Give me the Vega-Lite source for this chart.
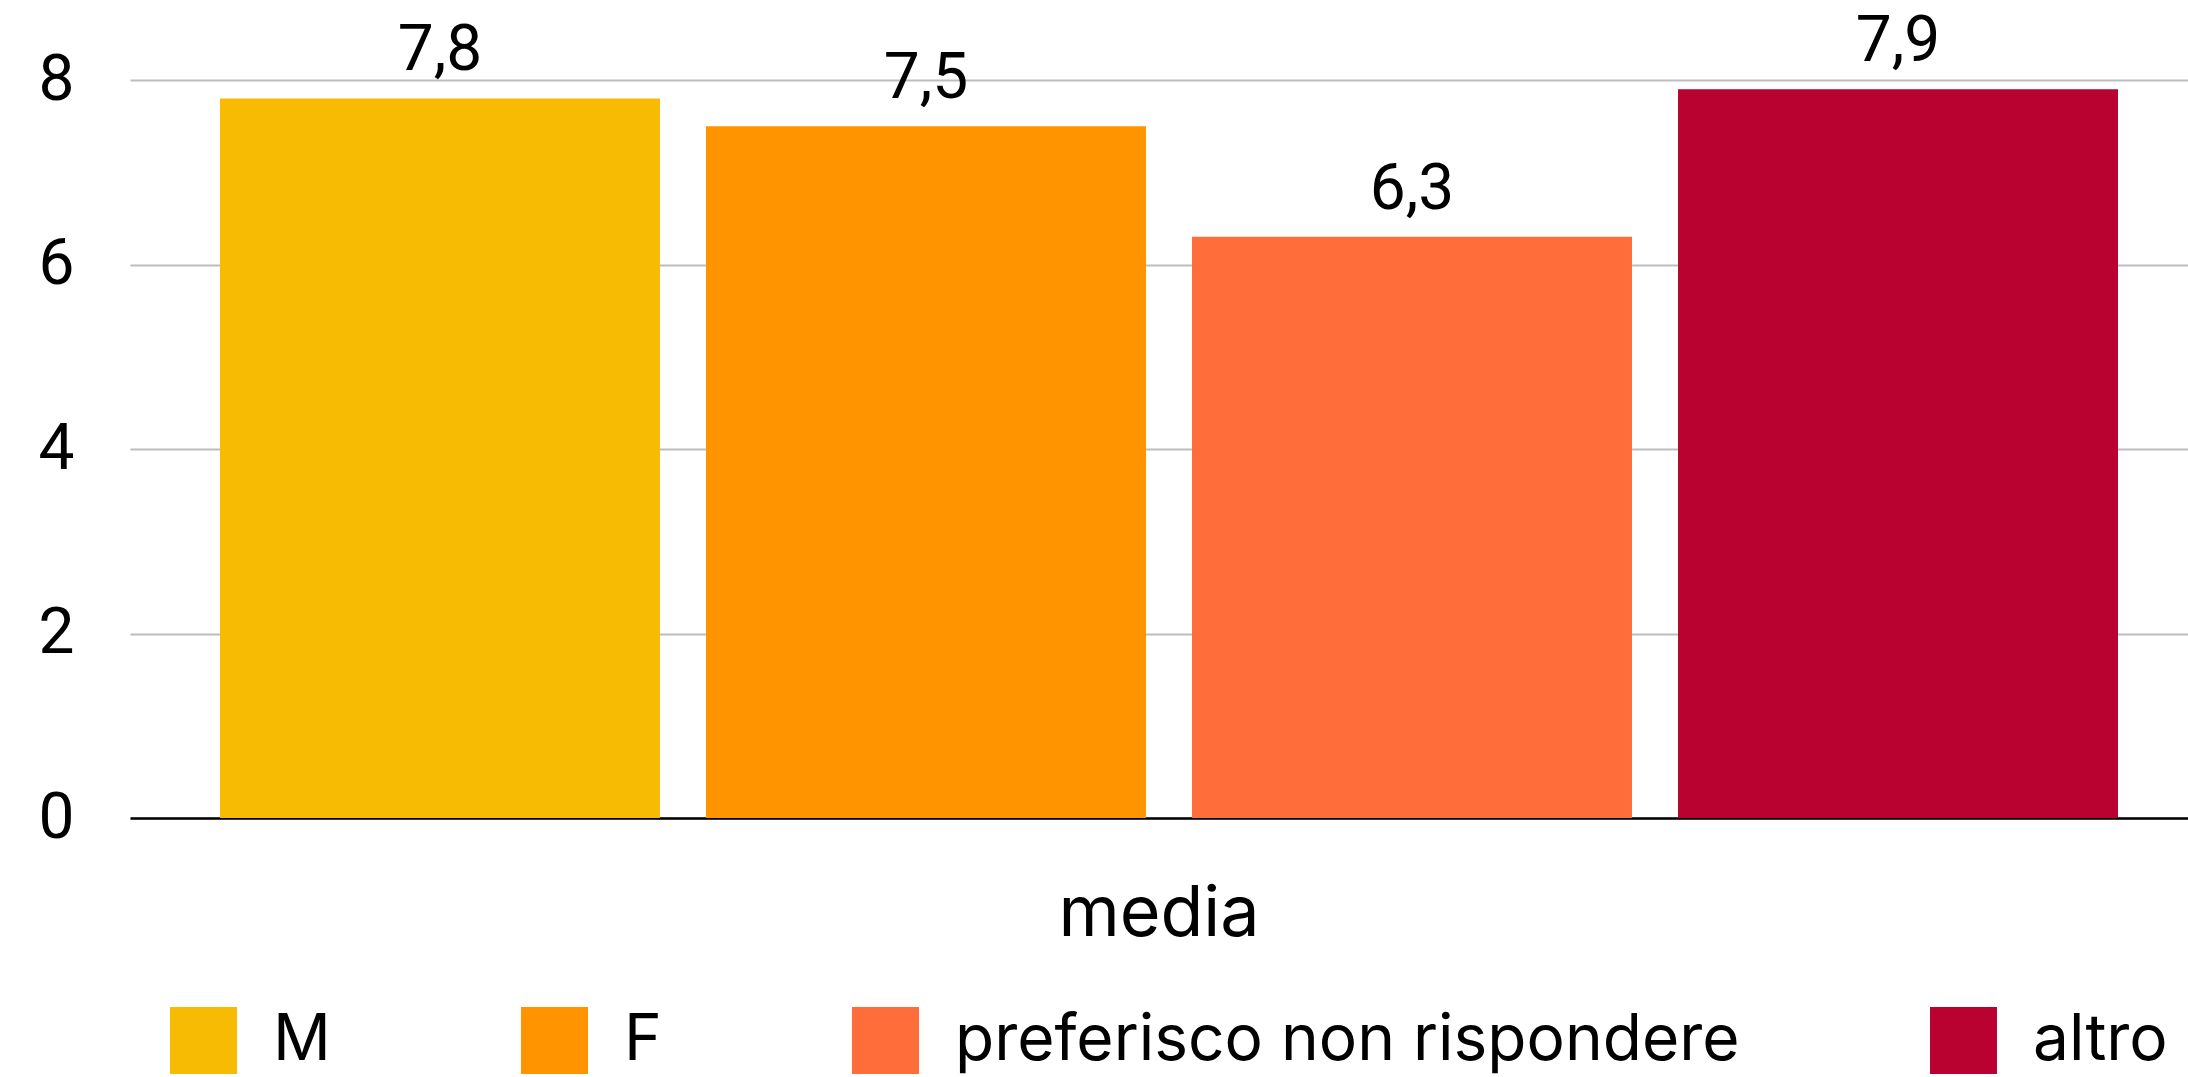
{
  "$schema": "https://vega.github.io/schema/vega-lite/v6.json",
  "width": 2058,
  "height": 738,
  "autosize": {"type": "none"},
  "padding": {"left": 130, "top": 80, "right": 0, "bottom": 259},
  "background": "white",
  "config": {
    "locale": {
      "number": {"decimal": ",", "thousands": ".", "grouping": [3], "currency": ["", " €"]}
    },
    "font": "Roboto",
    "view": {"stroke": null}
  },
  "data": {
    "values": [
      {"voce": "media", "gruppo": "M", "valore": 7.8},
      {"voce": "media", "gruppo": "F", "valore": 7.5},
      {"voce": "media", "gruppo": "preferisco non rispondere", "valore": 6.3},
      {"voce": "media", "gruppo": "altro", "valore": 7.9}
    ]
  },
  "encoding": {
    "x": {
      "field": "voce",
      "type": "nominal",
      "scale": {"paddingInner": 0, "paddingOuter": 0},
      "axis": {
        "title": null,
        "labelAngle": 0,
        "labelFont": "Inter",
        "labelFontSize": 70,
        "labelColor": "black",
        "labelLimit": 1000,
        "labelBaseline": "alphabetic",
        "labelPadding": 117,
        "labelDx": 10,
        "ticks": false,
        "tickSize": 0,
        "grid": false,
        "domain": true,
        "domainColor": "black",
        "domainWidth": 2.5
      }
    },
    "xOffset": {
      "field": "gruppo",
      "type": "nominal",
      "sort": ["M", "F", "preferisco non rispondere", "altro"],
      "scale": {"paddingInner": 0.0947, "paddingOuter": 0.1646, "align": 0.5625}
    },
    "y": {
      "field": "valore",
      "type": "quantitative",
      "scale": {"domain": [0, 8], "nice": false},
      "axis": {
        "title": null,
        "values": [0, 2, 4, 6, 8],
        "format": "d",
        "labelFontSize": 64,
        "labelColor": "black",
        "labelPadding": 56,
        "ticks": false,
        "tickSize": 0,
        "domain": false,
        "gridColor": "#bdbdbd",
        "gridWidth": 2
      }
    }
  },
  "layer": [
    {
      "mark": {"type": "bar"},
      "encoding": {
        "color": {
          "field": "gruppo",
          "type": "nominal",
          "sort": ["M", "F", "preferisco non rispondere", "altro"],
          "scale": {
            "domain": ["M", "F", "preferisco non rispondere", "altro"],
            "range": ["#F6BB02", "#FF9400", "#FF6D3A", "#B9022F"]
          },
          "legend": {
            "title": null,
            "orient": "none",
            "legendX": 40,
            "legendY": 927,
            "direction": "horizontal",
            "padding": 0,
            "symbolType": "square",
            "symbolSize": 4489,
            "symbolStrokeWidth": 0,
            "symbolOpacity": 1,
            "labelFont": "Inter",
            "labelFontSize": 64,
            "labelColor": "black",
            "labelOffset": 36,
            "labelLimit": 2000,
            "columnPadding": 190
          }
        }
      }
    },
    {
      "mark": {"type": "text", "baseline": "alphabetic", "dy": -28, "fontSize": 64, "color": "black"},
      "encoding": {
        "text": {"field": "valore", "type": "quantitative", "format": ".1f"}
      }
    }
  ]
}
